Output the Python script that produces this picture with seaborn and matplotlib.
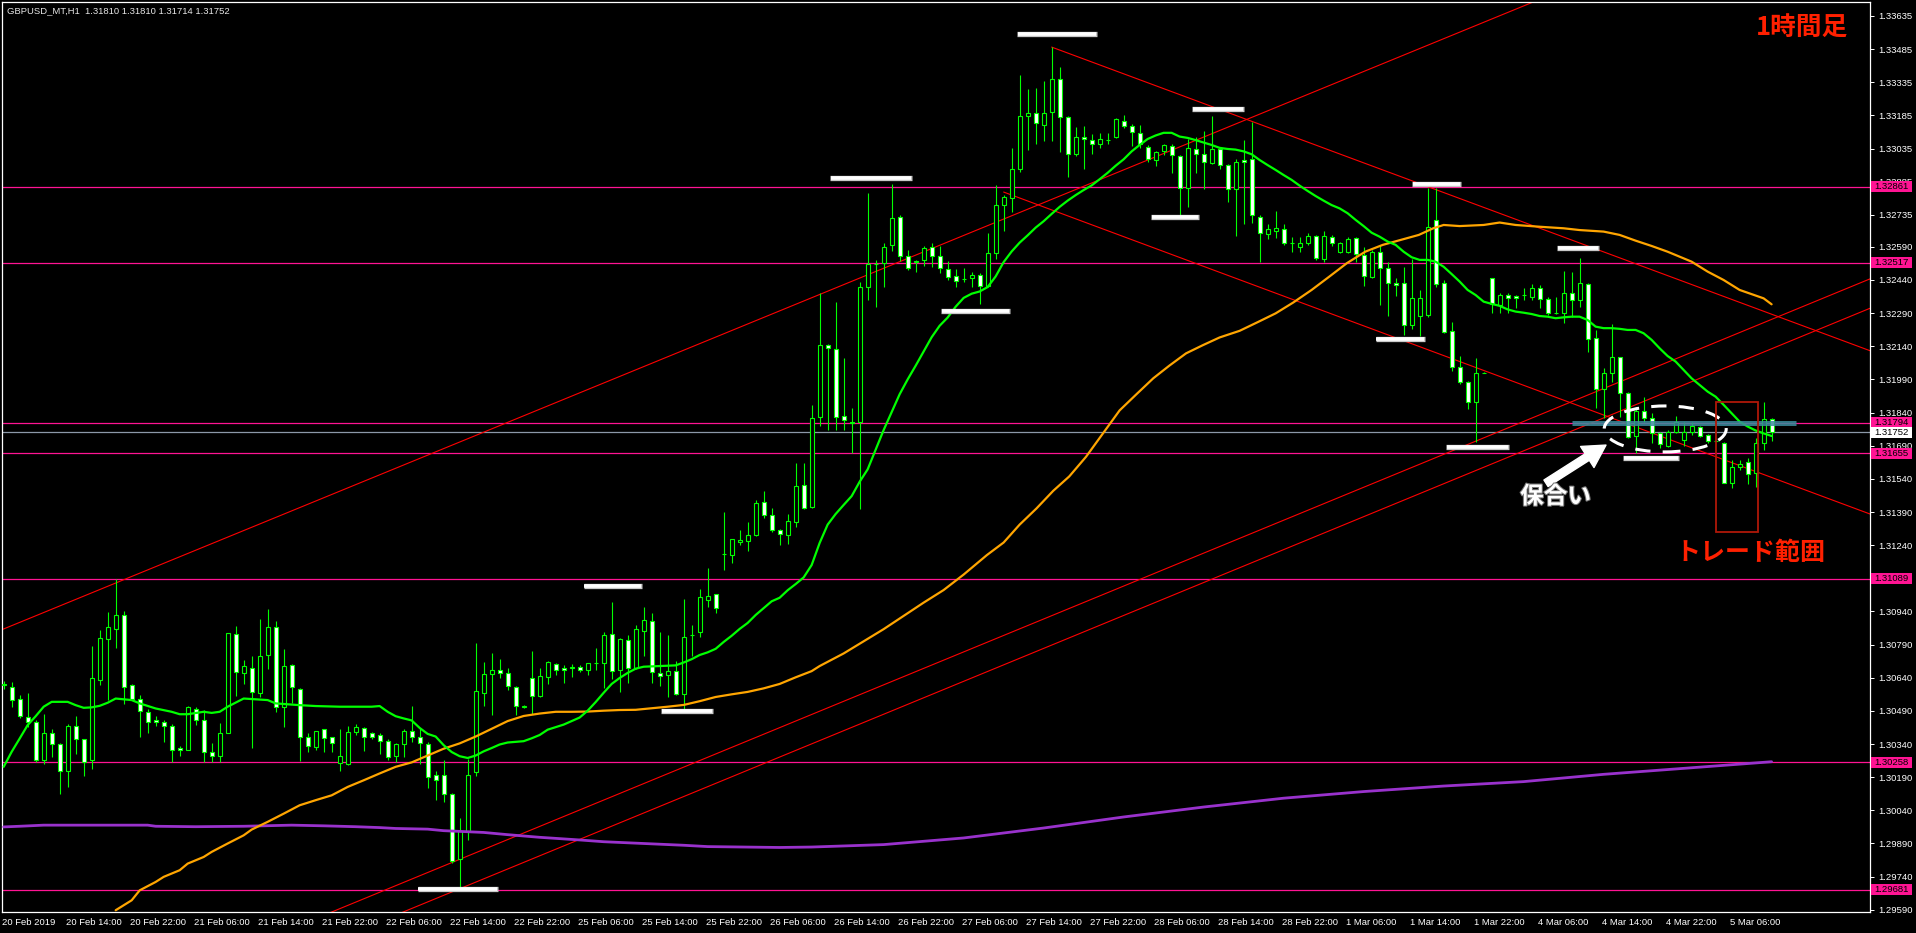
import numpy as np
import pandas as pd
import matplotlib
matplotlib.use("Agg")
import matplotlib.pyplot as plt
import matplotlib.transforms as mtrans
import matplotlib.patheffects as pe
from matplotlib.patches import Rectangle, Ellipse
import seaborn as sns

# GBPUSD H1, 20 Feb 06:00 .. 5 Mar 11:00 (one value per bar)
opens = [1.30610, 1.30599, 1.30542, 1.30463, 1.30438, 1.30270, 1.30388, 1.30340, 1.30217, 1.30421,
         1.30361, 1.30270, 1.30632, 1.30814, 1.30862, 1.30922, 1.30605, 1.30546, 1.30483, 1.30451,
         1.30438, 1.30420, 1.30320, 1.30315, 1.30500, 1.30447, 1.30302, 1.30288, 1.30392, 1.30836,
         1.30660, 1.30682, 1.30569, 1.30744, 1.30868, 1.30509, 1.30696, 1.30587, 1.30370, 1.30327,
         1.30406, 1.30370, 1.30255, 1.30249, 1.30395, 1.30413, 1.30388, 1.30383, 1.30356, 1.30287,
         1.30338, 1.30400, 1.30374, 1.30339, 1.30199, 1.30199, 1.30113, 1.29820, 1.29945, 1.30213,
         1.30573, 1.30656, 1.30674, 1.30660, 1.30600, 1.30506, 1.30639, 1.30556, 1.30643, 1.30704,
         1.30684, 1.30684, 1.30687, 1.30674, 1.30706, 1.30706, 1.30836, 1.30673, 1.30810, 1.30684,
         1.30853, 1.30896, 1.30662, 1.30654, 1.30670, 1.30568, 1.30833, 1.30846, 1.30990, 1.31019,
         1.31199, 1.31195, 1.31254, 1.31259, 1.31285, 1.31435, 1.31375, 1.31308, 1.31285, 1.31347,
         1.31511, 1.31413, 1.31818, 1.32144, 1.32128, 1.31823, 1.31798, 1.31798, 1.32408, 1.32513,
         1.32517, 1.32597, 1.32723, 1.32548, 1.32521, 1.32529, 1.32588, 1.32550, 1.32488, 1.32456,
         1.32443, 1.32448, 1.32464, 1.32411, 1.32561, 1.32779, 1.32811, 1.32944, 1.33180, 1.33196,
         1.33143, 1.33199, 1.33348, 1.33178, 1.33009, 1.33089, 1.33075, 1.33054, 1.33073, 1.33086,
         1.33159, 1.33138, 1.33106, 1.33041, 1.32981, 1.33022, 1.33046, 1.33002, 1.32857, 1.33033,
         1.33009, 1.32970, 1.33035, 1.32960, 1.32852, 1.32984, 1.32986, 1.32727, 1.32648, 1.32663,
         1.32669, 1.32609, 1.32591, 1.32606, 1.32639, 1.32534, 1.32636, 1.32565, 1.32565, 1.32629,
         1.32553, 1.32455, 1.32568, 1.32493, 1.32425, 1.32425, 1.32237, 1.32277, 1.32282, 1.32712,
         1.32425, 1.32211, 1.32045, 1.31977, 1.31890, 1.32021, 1.32448, 1.32327, 1.32372, 1.32368,
         1.32372, 1.32365, 1.32405, 1.32354, 1.32292, 1.32289, 1.32383, 1.32350, 1.32422, 1.32176,
         1.31946, 1.32018, 1.32090, 1.31930, 1.31734, 1.31848, 1.31814, 1.31749, 1.31689, 1.31754,
         1.31716, 1.31754, 1.31773, 1.31739, 1.31713, 1.31704, 1.31520, 1.31592, 1.31615, 1.31565,
         1.31704, 1.31810]
highs = [1.30626, 1.30619, 1.30561, 1.30569, 1.30448, 1.30478, 1.30410, 1.30346, 1.30430, 1.30466,
         1.30365, 1.30783, 1.30856, 1.30939, 1.31087, 1.30942, 1.30611, 1.30561, 1.30498, 1.30466,
         1.30451, 1.30430, 1.30332, 1.30513, 1.30509, 1.30494, 1.30343, 1.30436, 1.30844, 1.30874,
         1.30720, 1.30740, 1.30904, 1.30950, 1.30897, 1.30768, 1.30702, 1.30592, 1.30388, 1.30401,
         1.30410, 1.30373, 1.30410, 1.30421, 1.30430, 1.30418, 1.30395, 1.30388, 1.30361, 1.30346,
         1.30410, 1.30512, 1.30413, 1.30350, 1.30218, 1.30269, 1.30117, 1.30007, 1.30272, 1.30797,
         1.30712, 1.30752, 1.30724, 1.30685, 1.30603, 1.30517, 1.30763, 1.30685, 1.30716, 1.30709,
         1.30698, 1.30701, 1.30696, 1.30709, 1.30774, 1.30849, 1.30981, 1.30821, 1.30833, 1.30880,
         1.30958, 1.30933, 1.30846, 1.30833, 1.30716, 1.30997, 1.30880, 1.31040, 1.31137, 1.31020,
         1.31391, 1.31270, 1.31308, 1.31344, 1.31444, 1.31485, 1.31407, 1.31313, 1.31382, 1.31612,
         1.31612, 1.31874, 1.32383, 1.32149, 1.32340, 1.32088, 1.31861, 1.32431, 1.32833, 1.32529,
         1.32609, 1.32873, 1.32736, 1.32577, 1.32529, 1.32593, 1.32609, 1.32593, 1.32524, 1.32492,
         1.32496, 1.32475, 1.32472, 1.32653, 1.32868, 1.32824, 1.33038, 1.33369, 1.33304, 1.33309,
         1.33342, 1.33493, 1.33406, 1.33183, 1.33131, 1.33138, 1.33102, 1.33106, 1.33106, 1.33175,
         1.33188, 1.33146, 1.33143, 1.33051, 1.33025, 1.33054, 1.33054, 1.33005, 1.33078, 1.33086,
         1.33114, 1.33183, 1.33038, 1.32965, 1.32989, 1.33073, 1.33154, 1.32734, 1.32692, 1.32754,
         1.32692, 1.32633, 1.32636, 1.32651, 1.32644, 1.32662, 1.32644, 1.32614, 1.32633, 1.32636,
         1.32591, 1.32576, 1.32594, 1.32523, 1.32448, 1.32500, 1.32534, 1.32395, 1.32855, 1.32855,
         1.32440, 1.32252, 1.32096, 1.31985, 1.32086, 1.32024, 1.32448, 1.32380, 1.32380, 1.32371,
         1.32402, 1.32422, 1.32417, 1.32365, 1.32362, 1.32482, 1.32478, 1.32538, 1.32425, 1.32214,
         1.32041, 1.32241, 1.32093, 1.31935, 1.31864, 1.31909, 1.31837, 1.31754, 1.31762, 1.31825,
         1.31799, 1.31799, 1.31779, 1.31743, 1.31716, 1.31709, 1.31626, 1.31626, 1.31633, 1.31724,
         1.31890, 1.31814]
lows = [1.30587, 1.30509, 1.30460, 1.30418, 1.30260, 1.30252, 1.30282, 1.30116, 1.30146, 1.30294,
        1.30196, 1.30229, 1.30607, 1.30539, 1.30776, 1.30519, 1.30539, 1.30370, 1.30388, 1.30421,
        1.30350, 1.30260, 1.30287, 1.30312, 1.30427, 1.30260, 1.30260, 1.30260, 1.30388, 1.30557,
        1.30614, 1.30320, 1.30551, 1.30678, 1.30486, 1.30415, 1.30524, 1.30264, 1.30303, 1.30315,
        1.30305, 1.30303, 1.30219, 1.30244, 1.30380, 1.30309, 1.30361, 1.30294, 1.30267, 1.30261,
        1.30282, 1.30349, 1.30249, 1.30140, 1.30085, 1.30078, 1.29802, 1.29688, 1.29906, 1.30197,
        1.30514, 1.30470, 1.30639, 1.30584, 1.30470, 1.30503, 1.30475, 1.30553, 1.30612, 1.30654,
        1.30618, 1.30642, 1.30668, 1.30654, 1.30674, 1.30592, 1.30634, 1.30576, 1.30618, 1.30680,
        1.30737, 1.30615, 1.30603, 1.30553, 1.30561, 1.30498, 1.30740, 1.30826, 1.30961, 1.30933,
        1.31129, 1.31160, 1.31241, 1.31215, 1.31282, 1.31363, 1.31301, 1.31243, 1.31246, 1.31324,
        1.31402, 1.31410, 1.31780, 1.31761, 1.31761, 1.31761, 1.31659, 1.31402, 1.32348, 1.32319,
        1.32408, 1.32569, 1.32524, 1.32485, 1.32477, 1.32504, 1.32501, 1.32472, 1.32440, 1.32408,
        1.32432, 1.32408, 1.32330, 1.32408, 1.32537, 1.32663, 1.32747, 1.32930, 1.33030, 1.33057,
        1.33070, 1.33067, 1.33018, 1.32908, 1.33002, 1.32941, 1.33009, 1.33038, 1.33057, 1.33083,
        1.33127, 1.33046, 1.33038, 1.32976, 1.32957, 1.33005, 1.32925, 1.32731, 1.32771, 1.32925,
        1.32852, 1.32965, 1.32941, 1.32792, 1.32637, 1.32695, 1.32697, 1.32523, 1.32624, 1.32629,
        1.32599, 1.32568, 1.32568, 1.32599, 1.32531, 1.32523, 1.32594, 1.32561, 1.32564, 1.32523,
        1.32414, 1.32448, 1.32327, 1.32277, 1.32368, 1.32191, 1.32217, 1.32187, 1.32274, 1.32410,
        1.32199, 1.32030, 1.31970, 1.31855, 1.31709, 1.32018, 1.32289, 1.32289, 1.32289, 1.32312,
        1.32350, 1.32350, 1.32312, 1.32282, 1.32286, 1.32244, 1.32274, 1.32320, 1.32116, 1.31860,
        1.31814, 1.31980, 1.31822, 1.31724, 1.31659, 1.31799, 1.31701, 1.31678, 1.31686, 1.31746,
        1.31689, 1.31739, 1.31728, 1.31704, 1.31710, 1.31520, 1.31497, 1.31580, 1.31517, 1.31502,
        1.31671, 1.31713]
closes = [1.30605, 1.30539, 1.30466, 1.30438, 1.30270, 1.30392, 1.30338, 1.30217, 1.30421, 1.30361,
          1.30261, 1.30637, 1.30818, 1.30868, 1.30922, 1.30599, 1.30546, 1.30489, 1.30438, 1.30438,
          1.30420, 1.30311, 1.30311, 1.30507, 1.30447, 1.30302, 1.30288, 1.30388, 1.30841, 1.30664,
          1.30691, 1.30574, 1.30740, 1.30868, 1.30506, 1.30691, 1.30596, 1.30370, 1.30332, 1.30401,
          1.30368, 1.30346, 1.30285, 1.30395, 1.30415, 1.30373, 1.30373, 1.30356, 1.30282, 1.30340,
          1.30397, 1.30373, 1.30343, 1.30190, 1.30179, 1.30113, 1.29813, 1.29945, 1.30202, 1.30581,
          1.30656, 1.30674, 1.30660, 1.30603, 1.30511, 1.30514, 1.30556, 1.30646, 1.30713, 1.30674,
          1.30674, 1.30690, 1.30674, 1.30706, 1.30706, 1.30833, 1.30670, 1.30815, 1.30684, 1.30860,
          1.30900, 1.30665, 1.30646, 1.30670, 1.30568, 1.30824, 1.30833, 1.31005, 1.31011, 1.30955,
          1.31199, 1.31266, 1.31263, 1.31285, 1.31430, 1.31375, 1.31308, 1.31290, 1.31351, 1.31506,
          1.31410, 1.31815, 1.32144, 1.32133, 1.31818, 1.31805, 1.31793, 1.32408, 1.32513, 1.32513,
          1.32588, 1.32720, 1.32550, 1.32493, 1.32524, 1.32585, 1.32550, 1.32493, 1.32453, 1.32437,
          1.32443, 1.32464, 1.32411, 1.32561, 1.32779, 1.32816, 1.32941, 1.33180, 1.33196, 1.33151,
          1.33196, 1.33348, 1.33178, 1.33009, 1.33086, 1.33078, 1.33054, 1.33078, 1.33073, 1.33170,
          1.33139, 1.33110, 1.33054, 1.32989, 1.33017, 1.33049, 1.33005, 1.32857, 1.33038, 1.33009,
          1.32976, 1.33033, 1.32960, 1.32852, 1.32976, 1.32976, 1.32734, 1.32651, 1.32669, 1.32674,
          1.32606, 1.32609, 1.32606, 1.32639, 1.32538, 1.32639, 1.32606, 1.32606, 1.32626, 1.32558,
          1.32458, 1.32568, 1.32493, 1.32425, 1.32418, 1.32237, 1.32357, 1.32357, 1.32681, 1.32422,
          1.32206, 1.32045, 1.31977, 1.31887, 1.32018, 1.32021, 1.32332, 1.32372, 1.32360, 1.32357,
          1.32372, 1.32405, 1.32354, 1.32289, 1.32292, 1.32383, 1.32350, 1.32425, 1.32173, 1.31946,
          1.32018, 1.32090, 1.31930, 1.31728, 1.31848, 1.31814, 1.31749, 1.31698, 1.31754, 1.31799,
          1.31754, 1.31779, 1.31734, 1.31713, 1.31713, 1.31523, 1.31592, 1.31606, 1.31561, 1.31704,
          1.31810, 1.31752]

# moving averages (bar index, price)
green_idx = [0, 1, 2, 3, 4, 5, 6, 8, 9, 10, 11, 12, 13, 14, 16, 17, 19, 21, 22, 23, 25, 26, 27, 28, 30,
             33, 34, 37, 39, 42, 46, 47, 48, 49, 50, 51, 52, 53, 54, 55, 56, 57, 58, 59, 60, 61, 62, 63,
             65, 66, 67, 68, 70, 72, 73, 74, 75, 76, 77, 78, 79, 80, 82, 84, 85, 86, 87, 88, 89, 90, 91,
             92, 93, 94, 95, 96, 97, 98, 99, 100, 101, 102, 103, 104, 105, 106, 107, 108, 109, 110, 111,
             112, 113, 114, 115, 116, 117, 118, 119, 120, 121, 122, 123, 124, 125, 126, 127, 128, 129,
             130, 131, 132, 133, 134, 135, 136, 137, 138, 139, 140, 141, 142, 143, 144, 145, 146, 147,
             148, 149, 150, 151, 152, 153, 154, 155, 156, 157, 158, 159, 160, 161, 162, 163, 164, 165,
             166, 167, 168, 169, 170, 171, 172, 173, 174, 175, 176, 177, 178, 179, 180, 181, 182, 183,
             184, 185, 186, 187, 188, 189, 190, 191, 192, 193, 194, 195, 196, 197, 198, 199, 200, 201,
             202, 203, 204, 205, 206, 207, 208, 209, 210, 211, 212, 213, 214, 215, 216, 217, 218, 219,
             220, 221]
green_val = [1.30237, 1.30305, 1.30365, 1.30426, 1.30466, 1.30509, 1.30531, 1.30531, 1.30516, 1.30504,
             1.30506, 1.30513, 1.30527, 1.30546, 1.30539, 1.30524, 1.30501, 1.30486, 1.30475, 1.30475,
             1.30486, 1.30481, 1.30486, 1.30509, 1.30546, 1.30539, 1.30524, 1.30516, 1.30512, 1.30509,
             1.30509, 1.30512, 1.30486, 1.30466, 1.30456, 1.30447, 1.30413, 1.30386, 1.30374, 1.30335,
             1.30304, 1.30285, 1.30277, 1.30288, 1.30307, 1.30322, 1.30338, 1.30347, 1.30353, 1.30366,
             1.30381, 1.30405, 1.30428, 1.30460, 1.30491, 1.30530, 1.30572, 1.30612, 1.30639, 1.30662,
             1.30681, 1.30690, 1.30693, 1.30696, 1.30709, 1.30724, 1.30743, 1.30755, 1.30771, 1.30802,
             1.30830, 1.30861, 1.30888, 1.30924, 1.30955, 1.30986, 1.31002, 1.31036, 1.31064, 1.31094,
             1.31150, 1.31250, 1.31333, 1.31381, 1.31422, 1.31462, 1.31527, 1.31583, 1.31672, 1.31761,
             1.31842, 1.31923, 1.31990, 1.32052, 1.32117, 1.32181, 1.32233, 1.32270, 1.32319, 1.32359,
             1.32378, 1.32388, 1.32408, 1.32456, 1.32521, 1.32569, 1.32609, 1.32642, 1.32677, 1.32706,
             1.32739, 1.32771, 1.32799, 1.32824, 1.32847, 1.32868, 1.32896, 1.32925, 1.32957, 1.32986,
             1.33022, 1.33051, 1.33078, 1.33094, 1.33106, 1.33106, 1.33089, 1.33083, 1.33073, 1.33062,
             1.33051, 1.33038, 1.33033, 1.33030, 1.33022, 1.33009, 1.32983, 1.32960, 1.32938, 1.32915,
             1.32893, 1.32867, 1.32843, 1.32820, 1.32799, 1.32779, 1.32764, 1.32742, 1.32712, 1.32684,
             1.32654, 1.32636, 1.32614, 1.32599, 1.32568, 1.32543, 1.32531, 1.32531, 1.32523, 1.32500,
             1.32467, 1.32433, 1.32395, 1.32372, 1.32342, 1.32332, 1.32323, 1.32307, 1.32297, 1.32292,
             1.32286, 1.32277, 1.32274, 1.32267, 1.32271, 1.32274, 1.32274, 1.32259, 1.32229, 1.32222,
             1.32222, 1.32219, 1.32214, 1.32214, 1.32199, 1.32169, 1.32131, 1.32096, 1.32071, 1.32033,
             1.31995, 1.31965, 1.31935, 1.31912, 1.31875, 1.31837, 1.31799, 1.31777, 1.31759, 1.31746,
             1.31734]
orange_idx = [14, 16, 17, 19, 20, 22, 23, 25, 26, 28, 30, 31, 33, 35, 37, 39, 41, 43, 45, 47, 49, 51,
              53, 55, 57, 59, 61, 63, 65, 67, 69, 71, 73, 75, 77, 79, 81, 83, 85, 87, 89, 91, 93, 95,
              97, 99, 101, 102, 105, 110, 115, 117.5, 120, 122.9, 125, 127, 129.1, 131.2, 133.2, 135.3,
              137.4, 139.5, 141.6, 143.7, 145.7, 147.8, 149.9, 152, 154.5, 156.8, 159, 161.2, 163.5,
              165.7, 167.9, 170.2, 172.4, 174.6, 176.9, 178.7, 180, 182, 185, 187, 189, 192, 195, 197,
              200, 202, 204, 206, 208, 211, 213, 215, 217, 220, 221]
orange_val = [1.29588, 1.29633, 1.29678, 1.29716, 1.29739, 1.29769, 1.29799, 1.29829, 1.29852, 1.29890,
              1.29927, 1.29953, 1.29988, 1.30025, 1.30063, 1.30086, 1.30108, 1.30146, 1.30176, 1.30207,
              1.30237, 1.30257, 1.30288, 1.30319, 1.30343, 1.30374, 1.30409, 1.30444, 1.30467, 1.30478,
              1.30486, 1.30486, 1.30487, 1.30491, 1.30494, 1.30495, 1.30502, 1.30509, 1.30517, 1.30534,
              1.30553, 1.30565, 1.30576, 1.30592, 1.30612, 1.30642, 1.30670, 1.30693, 1.30750, 1.30860,
              1.30980, 1.31037, 1.31107, 1.31195, 1.31252, 1.31333, 1.31406, 1.31486, 1.31551, 1.31640,
              1.31745, 1.31850, 1.31923, 1.31995, 1.32052, 1.32108, 1.32145, 1.32180, 1.32210, 1.32250,
              1.32289, 1.32338, 1.32395, 1.32455, 1.32516, 1.32568, 1.32599, 1.32621, 1.32644, 1.32674,
              1.32689, 1.32684, 1.32689, 1.32700, 1.32689, 1.32681, 1.32674, 1.32666, 1.32659, 1.32644,
              1.32618, 1.32594, 1.32568, 1.32523, 1.32478, 1.32440, 1.32395, 1.32357, 1.32330]
purple_idx = [0, 2, 5, 18, 19, 24, 30, 36, 40, 44, 47, 49, 53, 55, 60, 63, 67, 72, 75, 80, 85, 88, 97,
              101, 110, 120, 130, 140, 150, 160, 170, 180, 190, 200, 210, 221]
purple_val = [1.29965, 1.29968, 1.29973, 1.29973, 1.29968, 1.29966, 1.29968, 1.29973, 1.29970, 1.29966,
              1.29962, 1.29958, 1.29955, 1.29948, 1.29940, 1.29930, 1.29918, 1.29906, 1.29898, 1.29890,
              1.29882, 1.29876, 1.29872, 1.29874, 1.29885, 1.29915, 1.29960, 1.30010, 1.30055, 1.30095,
              1.30125, 1.30150, 1.30170, 1.30203, 1.30230, 1.30260]

# horizontal levels and current bid
level_prices = [1.32861, 1.32517, 1.31794, 1.31655, 1.31089, 1.30258, 1.29681]
bid_price = 1.31752

# trend lines: (start bar, start price, end bar, end price)
trend_lines = [(-0.2, 1.30858, 191.0, 1.33695),
               (40.0, 1.29565, 233.3, 1.32445),
               (49.0, 1.29566, 233.3, 1.32312),
               (131.0, 1.33494, 233.3, 1.32120),
               (125.0, 1.32838, 233.3, 1.31381)]

# swing markers: (start bar, end bar, price)
swing_marks = [(126.7, 136.7, 1.33554), (148.6, 155.0, 1.33215), (103.3, 113.5, 1.32902),
               (143.4, 149.4, 1.32724), (117.2, 125.8, 1.32300), (176.1, 182.2, 1.32876),
               (194.2, 199.4, 1.32585), (171.5, 177.7, 1.32171), (180.3, 188.2, 1.31684),
               (202.4, 209.4, 1.31634), (72.5, 79.75, 1.31056), (82.2, 88.7, 1.30488),
               (51.75, 61.75, 1.29682)]

# scale labels (1.31090 sits under the 1.31089 level box and is not shown)
ytick_vals = [1.33635, 1.33485, 1.33335, 1.33185, 1.33035, 1.32885, 1.32735, 1.32590, 1.32440,
              1.32290, 1.32140, 1.31990, 1.31840, 1.31690, 1.31540, 1.31390, 1.31240,
              1.30940, 1.30790, 1.30640, 1.30490, 1.30340, 1.30190, 1.30040, 1.29890, 1.29740,
              1.29590]
xtick_bars = list(range(0, 217, 8))
xtick_labels = ["20 Feb 2019", "20 Feb 14:00", "20 Feb 22:00", "21 Feb 06:00", "21 Feb 14:00",
                "21 Feb 22:00", "22 Feb 06:00", "22 Feb 14:00", "22 Feb 22:00", "25 Feb 06:00",
                "25 Feb 14:00", "25 Feb 22:00", "26 Feb 06:00", "26 Feb 14:00", "26 Feb 22:00",
                "27 Feb 06:00", "27 Feb 14:00", "27 Feb 22:00", "28 Feb 06:00", "28 Feb 14:00",
                "28 Feb 22:00", "1 Mar 06:00", "1 Mar 14:00", "1 Mar 22:00", "4 Mar 06:00",
                "4 Mar 14:00", "4 Mar 22:00", "5 Mar 06:00"]

LIME = "#00FF00"
PINK = "#FF1493"
TXT = ["Liberation Sans", "DejaVu Sans"]
JP = ["Noto Sans CJK JP", "DejaVu Sans"]

sns.set_theme(style="dark")
plt.rcParams["font.family"] = TXT

W, H = 1916, 933
fig = plt.figure(figsize=(W / 100, H / 100), dpi=100, facecolor="black")
ax = fig.add_axes([2 / W, 21 / H, 1868 / W, 910 / H])
ax.set_facecolor("black")
ax.grid(False)

df = pd.DataFrame({"open": opens, "high": highs, "low": lows, "close": closes})
df["bar"] = np.arange(len(df))
up = df["close"] >= df["open"]

# levels
for p in level_prices:
    ax.axhline(p, color=PINK, lw=0.9, zorder=1)
ax.axhline(bid_price, color="#8C98A8", lw=0.9, zorder=1)

# trend lines
for x0, y0, x1, y1 in trend_lines:
    ax.plot([x0, x1], [y0, y1], color="#FF0000", lw=0.8, zorder=2)

# candles
ax.vlines(df["bar"], df["low"], df["high"], color=LIME, lw=0.8, zorder=3)
ax.bar(df["bar"], (df["close"] - df["open"]).abs(), bottom=df[["open", "close"]].min(axis=1),
       width=0.52, color=np.where(up, "black", "white"), edgecolor=LIME, linewidth=0.8, zorder=3.5)

# moving averages
sns.lineplot(x=purple_idx, y=purple_val, ax=ax, color="#9932CC", lw=2.0, estimator=None, sort=False, zorder=4)
sns.lineplot(x=orange_idx, y=orange_val, ax=ax, color="#FFA500", lw=1.6, estimator=None, sort=False, zorder=4)
sns.lineplot(x=green_idx, y=green_val, ax=ax, color=LIME, lw=1.6, estimator=None, sort=False, zorder=4)

# swing markers
for x0, x1, p in swing_marks:
    ax.plot([x0, x1], [p, p], color="#C8C8C8", lw=3.8, solid_capstyle="butt", zorder=5)
    ax.plot([x0 + 0.1, x1 - 0.1], [p, p], color="white", lw=2.6, solid_capstyle="butt", zorder=5.1)

# consolidation zone
ax.plot([196.0, 224.0], [1.31793, 1.31793], color="#3A8C9C", lw=3.6, alpha=0.85,
        solid_capstyle="butt", zorder=5)
ax.add_patch(Ellipse((207.7, 1.31766), 15.25, 0.00208, fill=False, ec="white", lw=2.2,
                     ls=(0, (5, 4)), zorder=6))
ax.annotate("", xy=(200.3, 1.31693), xytext=(192.8, 1.31520),
            arrowprops=dict(arrowstyle="simple,head_width=0.9,head_length=0.8,tail_width=0.28",
                            color="white", mutation_scale=20, shrinkA=0, shrinkB=0), zorder=6)
ax.text(194.0, 1.31460, "保合い", color="white", fontsize=17, fontweight="bold", family=JP,
        ha="center", va="center", zorder=6,
        path_effects=[pe.withStroke(linewidth=1.5, foreground="#777777")])

# trade window
ax.add_patch(Rectangle((214.0, 1.31298), 5.3, 0.00591, fill=False, ec="#B01808", lw=1.3, zorder=6))
ax.text(218.35, 1.31205, "トレード範囲", color="#FF2000", fontsize=18, fontweight="bold", family=JP,
        ha="center", va="center", zorder=6)
ax.text(224.85, 1.33585, "1時間足", color="#FF2000", fontsize=18.5, fontweight="bold", family=JP,
        ha="center", va="center", zorder=6)

# axes
ax.set_xlim(-0.21, 233.3)
ax.set_ylim(1.29580, 1.33698)
for s in ax.spines.values():
    s.set_color("white")
    s.set_linewidth(0.9)
ax.yaxis.tick_right()
ax.set_yticks(ytick_vals)
ax.set_yticklabels([f"{v:.5f}" for v in ytick_vals])
ax.set_xticks([b - 0.2 for b in xtick_bars])
ax.set_xticklabels(xtick_labels, ha="left")
ax.tick_params(axis="y", colors="white", labelsize=6.8, length=3, width=0.7, pad=3, direction="out")
ax.tick_params(axis="x", colors="white", labelsize=6.8, length=3.5, width=0.7, pad=1, direction="out")
ax.set_xlabel("")
ax.set_ylabel("")

# price labels on the scale
tr = mtrans.blended_transform_factory(ax.transAxes, ax.transData)
box_h = 11 * (1.33698 - 1.29580) / 910
for p in level_prices + [bid_price]:
    fc = "white" if p == bid_price else PINK
    ax.add_patch(Rectangle((1 + 1 / 1868, p - box_h / 2), 41 / 1868, box_h, transform=tr,
                           fc=fc, ec="none", clip_on=False, zorder=10))
    ax.text(1 + 4 / 1868, p, f"{p:.5f}", transform=tr, color="black", fontsize=6.8,
            ha="left", va="center", clip_on=False, zorder=11)

fig.text(7 / W, 1 - 11 / H, "GBPUSD_MT,H1  1.31810 1.31810 1.31714 1.31752", color="#E6E6E6",
         fontsize=6.8, ha="left", va="center")

fig.savefig("out.png", dpi=100, facecolor="black")
